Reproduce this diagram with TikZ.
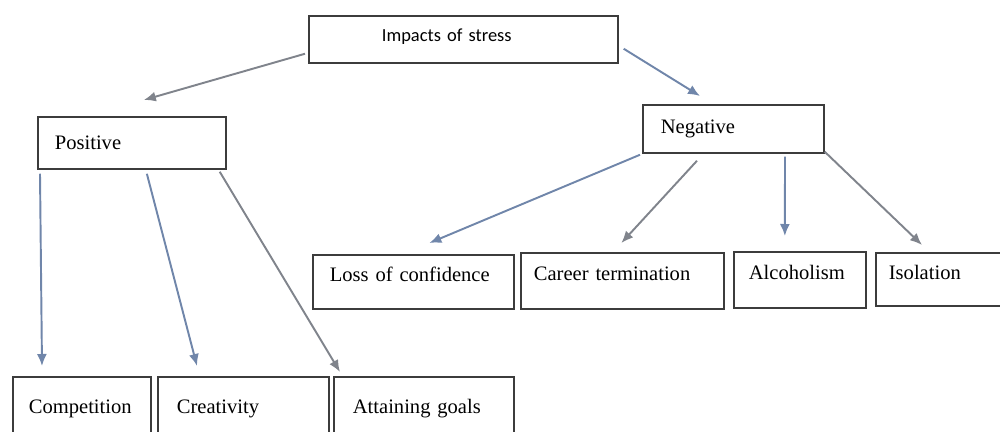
\documentclass[tikz,border=0pt]{standalone}
\usepackage{fontspec}
\setmainfont{Liberation Serif}
\newfontfamily\calibri{Carlito}
\usetikzlibrary{calc,arrows.meta}
\definecolor{boxline}{RGB}{60,60,60}
\definecolor{bluearr}{RGB}{112,134,170}
\definecolor{greyarr}{RGB}{128,132,140}
\tikzset{
	stressbox/.style={draw=boxline, line width=1pt, anchor=north west, align=left, fill=white, font=\fontsize{11.7}{14}\selectfont},
	bluelink/.style={draw=bluearr, line width=1.1pt, -{Latex[length=2.4mm,width=2mm]}},
	greylink/.style={draw=greyarr, line width=1.1pt, -{Latex[length=2.4mm,width=2mm]}}
}

\begin{document}
\begin{tikzpicture}[x=0.02cm, y=-0.02cm]
			%%%%% START %%%%%
			\useasboundingbox (0, 0) rectangle (1000, 432);
			
			% top
			\node[stressbox, font=\calibri\fontsize{10.5}{12}\selectfont, inner xsep=1.46cm, text width=3.26cm, minimum height=0.94cm, text depth=0.15cm] (impacts) at (308, 15) {Impacts of stress};
			
			% two branches
			\node[stressbox, inner xsep=0.34cm, text width=3.08cm, minimum height=1.04cm] (positive) at (37, 116) {Positive};
			\node[stressbox, inner xsep=0.36cm, text width=2.9cm, minimum height=0.96cm] (negative) at (642, 104) {Negative};
			
			% negative leaves
			\node[stressbox, inner xsep=0.34cm, text width=3.34cm, minimum height=1.08cm, text depth=0.3cm] (loss) at (312, 254) {Loss of confidence\hfill};
			\node[stressbox, inner xsep=0.26cm, text width=3.54cm, minimum height=1.12cm, text depth=0.3cm] (career) at (520, 252) {Career termination};
			\node[stressbox, inner xsep=0.3cm, text width=2.04cm, minimum height=1.12cm, text depth=0.3cm] (alcoholism) at (733, 251) {Alcoholism};
			\node[stressbox, inner xsep=0.26cm, text width=2.3cm, minimum height=1.06cm, text depth=0.3cm] (isolation) at (875, 252) {Isolation};
			
			% positive leaves
			\node[stressbox, inner xsep=0.32cm, text width=2.12cm, minimum height=1.28cm] (competition) at (12, 376) {Competition};
			\node[stressbox, inner xsep=0.38cm, text width=2.66cm, minimum height=1.28cm] (creativity) at (157, 376) {Creativity};
			\node[stressbox, inner xsep=0.38cm, text width=2.84cm, minimum height=1.28cm] (attaining) at (333, 376) {Attaining goals};
			
			\draw[greylink] ($(impacts.south west)+(-3,-10)$) -- ($(positive.north)+(12,-16)$);
			\draw[bluelink] ($(impacts.south east)+(5,-15)$) -- ($(negative.north west)+(58,-8)$);
			
			\draw[bluelink] ($(positive.south west)+(3,4)$) -- ($(competition.north west)+(30,-10)$);
			\draw[bluelink] ($(positive.south)+(15,4)$) -- ($(creativity.north west)+(40,-10)$);
			\draw[greylink] ($(positive.south east)+(-7,2)$) -- ($(attaining.north west)+(7,-4)$);
			
			\draw[bluelink] ($(negative.south west)+(-2,1)$) -- ($(loss.north)+(16,-11)$);
			\draw[greylink] ($(negative.south west)+(55,7)$) -- ($(career.north)+(-1,-9)$);
			\draw[bluelink] ($(negative.south west)+(143,3)$) -- ($(alcoholism.north)+(-15,-15)$);
			\draw[greylink] ($(negative.south east)+(0,-2)$) -- ($(isolation.north west)+(47,-7)$);
			
			%%%%% END %%%%%
\end{tikzpicture}
\end{document}
